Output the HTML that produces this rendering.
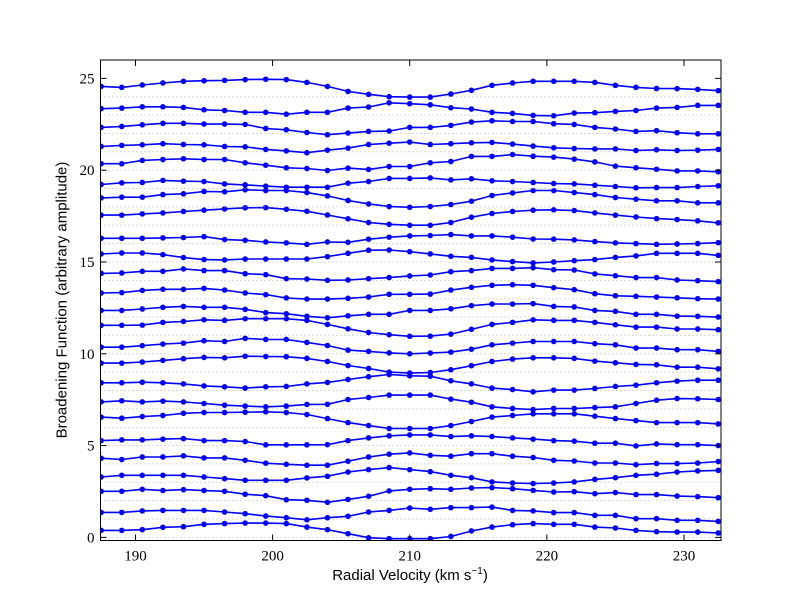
<!DOCTYPE html>
<html><head><meta charset="utf-8">
<style>
body{margin:0;background:#fff;}
svg{display:block;}
.tick{font-family:"Liberation Serif","DejaVu Serif",serif;font-size:15px;}
.lab{font-family:"Liberation Sans","DejaVu Sans",sans-serif;font-size:15px;}
</style></head><body>
<svg id="chart" width="800" height="600"></svg>
<script>
const velocities=[187.5,189,190.5,192,193.5,195,196.5,198,199.5,201,202.5,204,205.5,207,208.5,210,211.5,213,214.5,216,217.5,219,220.5,222,223.5,225,226.5,228,229.5,231,232.5];
const xTicks=[190,200,210,220,230];
const yTicks=[0,5,10,15,20,25];
const offsets=[
[0.38,0.38,0.42,0.55,0.58,0.71,0.75,0.78,0.78,0.75,0.56,0.42,0.2,-0.02,-0.07,-0.07,-0.07,0.05,0.35,0.56,0.69,0.75,0.71,0.71,0.56,0.51,0.38,0.31,0.29,0.29,0.24],
[0.36,0.36,0.44,0.47,0.47,0.47,0.38,0.29,0.16,0.07,-0.04,0.07,0.15,0.38,0.47,0.6,0.53,0.62,0.62,0.65,0.47,0.44,0.35,0.35,0.2,0.2,0.02,0.02,-0.07,-0.07,-0.13],
[0.51,0.51,0.62,0.55,0.6,0.55,0.51,0.35,0.27,0.05,0.02,-0.09,0.07,0.24,0.53,0.62,0.65,0.62,0.69,0.71,0.65,0.56,0.47,0.49,0.38,0.44,0.33,0.33,0.25,0.22,0.16],
[0.29,0.38,0.38,0.38,0.38,0.29,0.2,0.11,0.11,0.11,0.24,0.33,0.56,0.69,0.8,0.69,0.58,0.38,0.25,0.02,-0.04,-0.07,-0.04,0.02,0.16,0.25,0.38,0.44,0.56,0.62,0.65],
[0.31,0.24,0.38,0.38,0.44,0.33,0.33,0.2,0.04,-0.02,-0.07,-0.07,0.15,0.38,0.53,0.6,0.47,0.42,0.56,0.56,0.42,0.35,0.2,0.16,0.05,0.05,-0.04,0.02,0.02,0.05,0.13],
[0.27,0.31,0.31,0.35,0.38,0.27,0.27,0.22,0.04,0.04,0.04,0.05,0.27,0.42,0.53,0.58,0.58,0.49,0.53,0.49,0.42,0.35,0.27,0.24,0.13,0.13,-0.02,0.09,0.05,0.05,0.0],
[0.55,0.49,0.58,0.64,0.76,0.8,0.8,0.82,0.84,0.8,0.69,0.47,0.25,0.09,-0.07,-0.07,-0.07,0.09,0.31,0.55,0.64,0.73,0.73,0.73,0.6,0.47,0.36,0.25,0.25,0.25,0.18],
[0.38,0.44,0.38,0.42,0.38,0.29,0.2,0.15,0.11,0.15,0.24,0.25,0.51,0.62,0.75,0.75,0.75,0.53,0.36,0.11,0.02,-0.04,0.02,0.02,0.07,0.11,0.29,0.47,0.56,0.55,0.51],
[0.42,0.42,0.45,0.42,0.36,0.25,0.2,0.13,0.2,0.22,0.36,0.44,0.6,0.75,0.87,0.8,0.78,0.53,0.36,0.13,0.05,-0.07,0.02,0.02,0.11,0.22,0.29,0.42,0.51,0.56,0.56],
[0.49,0.49,0.55,0.64,0.73,0.8,0.78,0.87,0.85,0.84,0.75,0.58,0.36,0.2,0.0,-0.05,-0.02,0.13,0.35,0.58,0.71,0.78,0.78,0.75,0.6,0.51,0.42,0.4,0.27,0.27,0.18],
[0.36,0.36,0.44,0.53,0.58,0.71,0.67,0.84,0.78,0.78,0.62,0.45,0.2,0.13,0.05,0.0,0.04,0.09,0.25,0.49,0.58,0.67,0.67,0.67,0.55,0.49,0.31,0.31,0.22,0.22,0.13],
[0.55,0.55,0.56,0.71,0.76,0.85,0.82,0.91,0.91,0.91,0.82,0.6,0.36,0.16,0.04,-0.05,-0.04,0.07,0.33,0.6,0.71,0.85,0.82,0.82,0.71,0.58,0.45,0.45,0.35,0.35,0.31],
[0.36,0.36,0.44,0.53,0.58,0.53,0.53,0.42,0.24,0.18,0.04,-0.04,0.07,0.15,0.15,0.36,0.36,0.45,0.62,0.71,0.71,0.73,0.58,0.55,0.36,0.31,0.15,0.15,0.05,0.04,0.0],
[0.31,0.33,0.45,0.51,0.51,0.56,0.47,0.31,0.22,0.04,-0.02,-0.02,0.02,0.09,0.24,0.24,0.25,0.47,0.62,0.73,0.76,0.73,0.6,0.49,0.27,0.16,0.13,0.09,0.05,0.0,-0.02],
[0.38,0.4,0.49,0.49,0.62,0.53,0.53,0.36,0.31,0.09,0.07,0.0,0.02,0.09,0.15,0.24,0.29,0.47,0.53,0.65,0.65,0.69,0.58,0.56,0.35,0.25,0.15,0.15,0.02,-0.02,-0.07],
[0.44,0.49,0.49,0.4,0.24,0.13,0.11,0.16,0.16,0.16,0.16,0.29,0.47,0.64,0.65,0.56,0.44,0.31,0.25,0.11,0.02,-0.05,0.0,0.07,0.13,0.25,0.33,0.47,0.47,0.47,0.36],
[0.29,0.29,0.29,0.31,0.33,0.38,0.22,0.18,0.09,0.04,-0.04,0.09,0.07,0.24,0.35,0.42,0.44,0.49,0.42,0.42,0.35,0.25,0.24,0.2,0.11,0.04,0.0,-0.04,-0.02,0.0,0.05],
[0.55,0.55,0.62,0.67,0.75,0.82,0.89,0.95,0.96,0.87,0.76,0.56,0.35,0.15,0.05,0.0,0.0,0.15,0.44,0.64,0.75,0.82,0.84,0.8,0.67,0.55,0.45,0.36,0.31,0.24,0.13],
[0.49,0.53,0.53,0.67,0.71,0.84,0.82,0.93,0.89,0.89,0.78,0.6,0.35,0.16,0.02,-0.02,0.02,0.13,0.31,0.62,0.76,0.89,0.89,0.78,0.67,0.51,0.42,0.33,0.33,0.22,0.22],
[0.22,0.31,0.33,0.44,0.4,0.38,0.25,0.2,0.13,0.07,0.07,0.07,0.29,0.38,0.55,0.55,0.58,0.47,0.53,0.42,0.38,0.33,0.27,0.25,0.18,0.11,0.04,0.05,0.05,0.11,0.15],
[0.35,0.35,0.53,0.58,0.62,0.58,0.58,0.4,0.27,0.13,0.09,-0.02,0.11,0.04,0.2,0.2,0.4,0.47,0.75,0.75,0.85,0.76,0.71,0.6,0.45,0.22,0.13,0.05,-0.04,-0.04,-0.09],
[0.29,0.35,0.38,0.44,0.4,0.38,0.29,0.27,0.13,0.05,-0.05,0.09,0.2,0.4,0.47,0.53,0.4,0.44,0.49,0.51,0.42,0.31,0.22,0.18,0.16,0.16,0.07,0.11,0.07,0.09,0.13],
[0.33,0.38,0.47,0.55,0.55,0.51,0.51,0.49,0.27,0.2,0.05,-0.07,0.02,0.11,0.13,0.33,0.33,0.44,0.62,0.69,0.65,0.65,0.53,0.49,0.33,0.24,0.11,0.15,0.04,-0.02,-0.02],
[0.35,0.38,0.45,0.45,0.42,0.29,0.25,0.15,0.15,0.05,0.15,0.15,0.38,0.44,0.67,0.62,0.56,0.4,0.33,0.15,0.09,-0.02,-0.04,0.11,0.13,0.2,0.25,0.38,0.42,0.53,0.53],
[0.56,0.51,0.64,0.75,0.84,0.87,0.89,0.93,0.95,0.93,0.78,0.56,0.29,0.13,0.0,-0.02,-0.02,0.15,0.35,0.62,0.75,0.84,0.84,0.84,0.78,0.62,0.51,0.45,0.44,0.4,0.33]
];
const NS="http://www.w3.org/2000/svg";
const svg=document.getElementById('chart');
const L=100.5,R=721,T=60,B=540.5;
const xMin=187.45,xMax=232.7,yMin=-0.17,yMax=26;
const xs=v=>L+(v-xMin)/(xMax-xMin)*(R-L);
const ys=v=>B-(v-yMin)/(yMax-yMin)*(B-T);
function mk(tag,attrs,parent){const e=document.createElementNS(NS,tag);for(const k in attrs)e.setAttribute(k,attrs[k]);(parent||svg).appendChild(e);return e;}
const clip=mk('clipPath',{id:'pc'});mk('rect',{x:L,y:T,width:R-L,height:B-T},clip);
const plot=mk('g',{'clip-path':'url(#pc)'});


offsets.forEach((row,k)=>{
  const bl=mk('line',{x1:L,x2:R,y1:ys(k),y2:ys(k),stroke:'#b0b0b0','stroke-width':1,'stroke-dasharray':'1,3'},plot);
  
  
  const pts=row.map((o,i)=>xs(velocities[i]).toFixed(1)+','+ys(k+o).toFixed(1)).join(' ');
  const g=mk('g',{},plot);
  
  
  mk('polyline',{points:pts,fill:'none',stroke:'#0000ff','stroke-width':1.6},g);
  row.forEach((o,i)=>{
    const c=mk('circle',{cx:xs(velocities[i]),cy:ys(k+o),r:2.8,fill:'#0000ff'},g);
    
    
  });
});
const ax=mk('g',{});


mk('rect',{x:L,y:T,width:R-L,height:B-T,fill:'none',stroke:'#000','stroke-width':1},ax);
xTicks.forEach(v=>{
  const x=xs(v);
  mk('line',{x1:x,x2:x,y1:B,y2:B-6,stroke:'#000'},ax);
  mk('line',{x1:x,x2:x,y1:T,y2:T+6,stroke:'#000'},ax);
  const t=mk('text',{x:x,y:B+20,'text-anchor':'middle',class:'tick'},ax);
  t.textContent=v;
  
  
});
yTicks.forEach(v=>{
  const y=ys(v);
  mk('line',{x1:L,x2:L+6,y1:y,y2:y,stroke:'#000'},ax);
  mk('line',{x1:R,x2:R-6,y1:y,y2:y,stroke:'#000'},ax);
  const t=mk('text',{x:L-6,y:y+5,'text-anchor':'end',class:'tick'},ax);
  t.textContent=v;
  
  
});
</script>
<div style="position:absolute;left:0;top:0;width:800px;height:600px;pointer-events:none;">
<div class="lab" style="position:absolute;left:0;width:820px;top:566px;text-align:center;font-family:'Liberation Sans',sans-serif;font-size:15px;">Radial Velocity (km s<sup style="font-size:10px">−1</sup>)</div>
<div style="position:absolute;left:62px;top:300px;transform:translate(-50%,-50%) rotate(-90deg);white-space:nowrap;font-family:'Liberation Sans',sans-serif;font-size:15px;">Broadening Function (arbitrary amplitude)</div>
</div>
</body></html>
